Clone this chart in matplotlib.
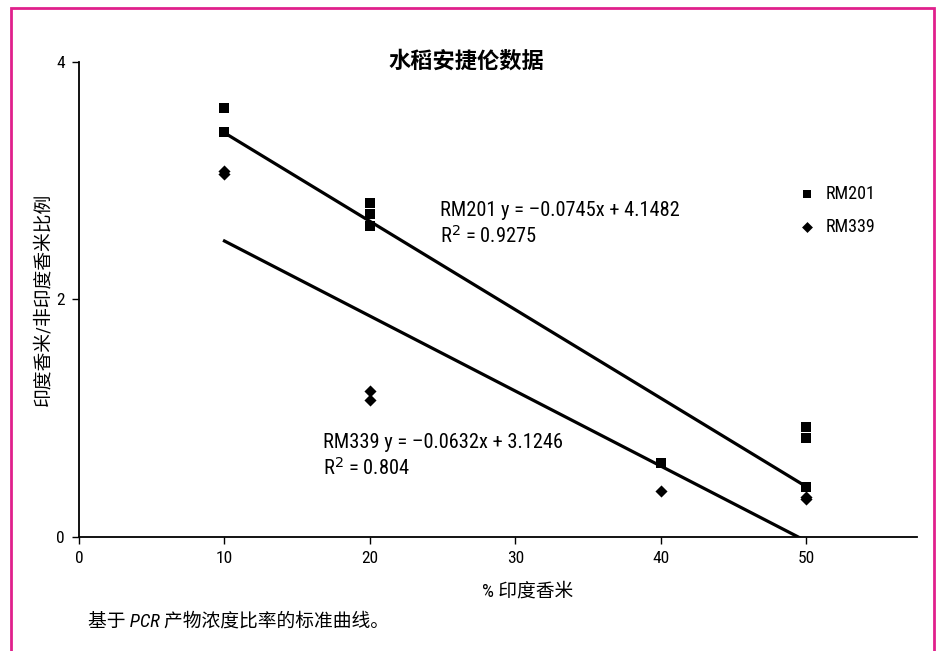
import matplotlib
matplotlib.use("Agg")
import matplotlib.pyplot as plt
from matplotlib.patches import Rectangle
import numpy as np

plt.rcParams['font.family'] = ['Roboto Condensed', 'Noto Sans CJK SC', 'DejaVu Sans']

# Measured ratios for two markers
rm201_x = [10, 10, 20, 20, 20, 40, 50, 50, 50]
rm201_y = [3.61, 3.41, 2.81, 2.72, 2.62, 0.62, 0.925, 0.83, 0.42]
rm339_x = [10, 10, 20, 20, 40, 50, 50]
rm339_y = [3.08, 3.06, 1.23, 1.15, 0.39, 0.34, 0.32]

# Linear fits (slope, intercept, R^2)
rm201_fit = (-0.0745, 4.1482, 0.9275)
rm339_fit = (-0.0632, 3.1246, 0.804)
fit_x = [10, 50]

x_ticks = [0, 10, 20, 30, 40, 50]
y_ticks = [0, 2, 4]

fig = plt.figure(figsize=(9.39, 6.51), dpi=100)
ax = fig.add_axes([0.0841, 0.1751, 0.8925, 0.7297])

ax.scatter(rm201_x, rm201_y, marker='s', s=44, color='black', linewidths=0,
           zorder=3, label='RM201')
ax.scatter(rm339_x, rm339_y, marker='D', s=38, color='black', linewidths=0,
           zorder=3, label='RM339')

for slope, intercept, _ in (rm201_fit, rm339_fit):
    xs = np.array(fit_x, dtype=float)
    ax.plot(xs, slope * xs + intercept, color='black', lw=2.3, zorder=2)

ax.set_xlim(0, 57.6)
ax.set_ylim(0, 4)
ax.set_xticks(x_ticks)
ax.set_yticks(y_ticks)
ax.tick_params(direction='out', length=5, width=1, labelsize=12.5, pad=5)
for s in ('top', 'right'):
    ax.spines[s].set_visible(False)
for s in ('left', 'bottom'):
    ax.spines[s].set_linewidth(1.3)

ax.set_xlabel('% 印度香米', fontsize=13.5, labelpad=12, x=0.535)
ax.set_ylabel('印度香米/非印度香米比例', fontsize=13.5, labelpad=3)

fig.text(0.497, 0.906, '水稻安捷伦数据', ha='center', va='center',
         fontsize=16, fontweight='bold')

ax.text(24.8, 2.636, f'RM201 y = \u2013{abs(rm201_fit[0])}x + {rm201_fit[1]}\n'
        f'R$^2$ = {rm201_fit[2]}',
        fontsize=14.7, va='center', ha='left', linespacing=1.3)
ax.text(16.8, 0.682, f'RM339 y = \u2013{abs(rm339_fit[0])}x + {rm339_fit[1]}\n'
        f'R$^2$ = {rm339_fit[2]}',
        fontsize=14.7, va='center', ha='left', linespacing=1.3)

ax.legend(loc='upper left', bbox_to_anchor=(0.8454, 0.757), frameon=False,
          fontsize=13, handlelength=1.4, handletextpad=0.3, labelspacing=0.85,
          markerscale=0.9, borderaxespad=0)

fig.text(0.094, 0.045, '基于 PCR 产物浓度比率的标准曲线。', fontsize=13.5,
         style='italic', ha='left', va='center')

fig.patches.append(Rectangle((0.0112, -0.05), 0.984, 1.0378, transform=fig.transFigure,
                             fill=False, edgecolor='#e0208c', lw=2, zorder=10))

fig.savefig('out.png', dpi=100)
